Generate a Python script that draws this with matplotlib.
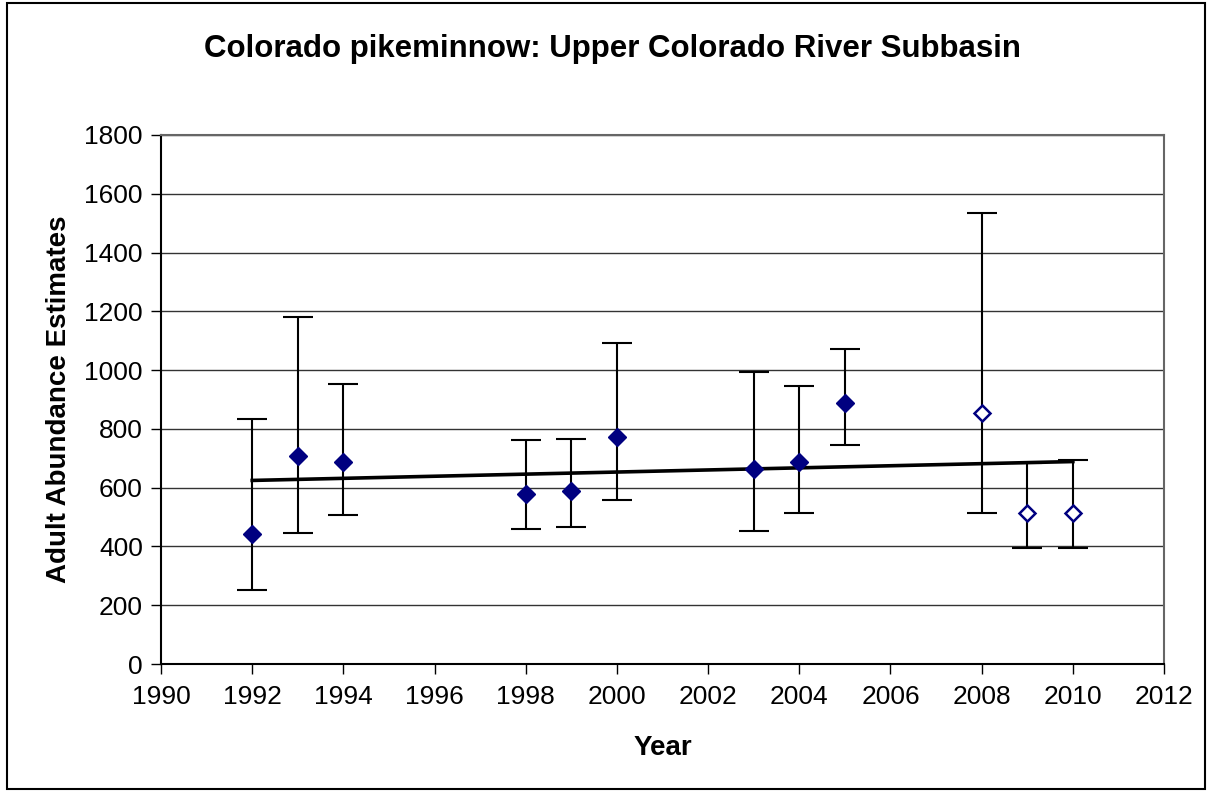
import numpy as np
import matplotlib
matplotlib.use('Agg')
import matplotlib.pyplot as plt
from matplotlib.patches import Rectangle

plt.rcParams['font.family'] = ['Liberation Sans', 'DejaVu Sans']

# Estimativas anuais com intervalos
anos = [1992, 1993, 1994, 1998, 1999, 2000, 2003, 2004, 2005, 2008, 2009, 2010]
estimativa = [441, 707, 687, 580, 587, 773, 662, 688, 887, 853, 513, 513]
limite_inf = [253, 447, 507, 460, 467, 558, 453, 513, 746, 513, 394, 394]
limite_sup = [833, 1180, 952, 761, 766, 1093, 994, 946, 1072, 1533, 685, 693]
# últimos três anos desenhados com marcador vazado
preliminar = [False] * 9 + [True] * 3

x = np.array(anos)
y = np.array(estimativa)
err = [y - np.array(limite_inf), np.array(limite_sup) - y]

fig = plt.figure(figsize=(12.09, 7.92), dpi=100)
ax = fig.add_axes([0.1332, 0.1616, 0.8296, 0.668])

ax.errorbar(x, y, yerr=err, fmt='none', ecolor='black', elinewidth=1.5,
            capsize=11, capthick=1.5, zorder=3)

# linha de tendência (regressão linear)
a, b = np.polyfit(x, y, 1)
xt = np.array([x.min(), x.max()])
ax.plot(xt, a * xt + b, color='black', linewidth=2.6, zorder=4)

cheio = [not p for p in preliminar]
ax.plot(x[cheio], y[cheio], 'D', color='#000080', markersize=9, zorder=5)
ax.plot(x[preliminar], y[preliminar], 'D', markerfacecolor='white',
        markeredgecolor='#000080', markeredgewidth=1.8, markersize=8, zorder=5)

ax.set_xlim(1990, 2012)
ax.set_ylim(0, 1800)
ax.set_xticks(range(1990, 2013, 2))
ax.set_yticks(range(0, 1801, 200))
ax.yaxis.grid(True, color='#333333', linewidth=1)
ax.set_axisbelow(True)

ax.tick_params(axis='both', direction='out', length=7, width=1, labelsize=19)
ax.tick_params(axis='x', pad=8)
ax.tick_params(axis='y', pad=6)
for s in ['left', 'bottom']:
    ax.spines[s].set_linewidth(1.5)
    ax.spines[s].set_color('black')
for s in ['top', 'right']:
    ax.spines[s].set_linewidth(1.5)
    ax.spines[s].set_color('#666666')

ax.set_xlabel('Year', fontsize=20, fontweight='bold', labelpad=19)
ax.set_ylabel('Adult Abundance Estimates', fontsize=20, fontweight='bold', labelpad=9)
fig.text(0.507, 0.938, 'Colorado pikeminnow: Upper Colorado River Subbasin',
         ha='center', va='center', fontsize=22.5, fontweight='bold')

fig.patches.append(Rectangle((0.006, 0.004), 0.991, 0.992, transform=fig.transFigure,
                             fill=False, edgecolor='black', linewidth=1.5))

plt.savefig('out.png', dpi=100)
plt.close()
